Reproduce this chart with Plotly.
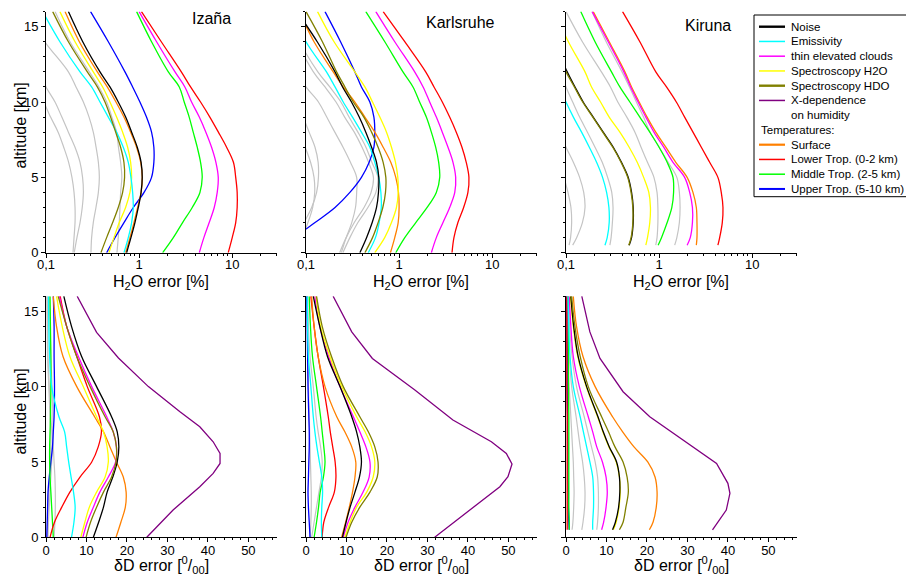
import plotly.graph_objects as go

# ---------------- data ----------------
ALT_TOP = [0, 1, 2, 3, 4, 5, 6, 7, 8, 9, 10, 11, 12, 14, 16]
ALT_TOP_KI = [0.5, 1, 2, 3, 4, 5, 6, 7, 8, 9, 10, 11, 12, 14, 16]
ALT_BOT = [0, 1, 2, 3, 4, 5, 6, 7, 8, 10, 12, 14, 16]
ALT_BOT_KI = [0.5, 1, 2, 3, 4, 5, 6, 7, 8, 10, 12, 14, 16]

STATIONS = ["Izaña", "Karlsruhe", "Kiruna"]

SERIES = ["noise", "emis", "cloud", "spec_h2o", "spec_hdo", "xdep",
          "surface", "lower", "middle", "upper"]
LABELS = {
    "noise": "Noise", "emis": "Emissivity", "cloud": "thin elevated clouds",
    "spec_h2o": "Spectroscopy H2O", "spec_hdo": "Spectroscopy HDO",
    "xdep": "X-dependence<br>on humidity", "surface": "Surface",
    "lower": "Lower Trop. (0-2 km)", "middle": "Middle Trop. (2-5 km)",
    "upper": "Upper Trop. (5-10 km)",
}
COLORS = {
    "noise": "#000000", "emis": "#00FFFF", "cloud": "#FF00FF",
    "spec_h2o": "#FFFF00", "spec_hdo": "#808000", "xdep": "#800080",
    "surface": "#FF8000", "lower": "#FF0000", "middle": "#00FF00",
    "upper": "#0000FF",
}
GREY = "#C4C4C4"

# H2O error [%], Izaña (altitudes ALT_TOP)
IZ_H2O = {
    "noise": [0.734, 0.817, 0.902, 0.98, 1.05, 1.08, 1.05, 0.955, 0.831, 0.717, 0.597, 0.486, 0.380, 0.248, 0.174],
    "emis": [0.688, 0.765, 0.831, 0.866, 0.852, 0.817, 0.765, 0.676, 0.573, 0.467, 0.380, 0.309, 0.232, 0.141, 0.092],
    "cloud": [4.43, 4.96, 5.66, 6.41, 6.90, 7.08, 6.68, 6.0, 5.21, 4.43, 3.66, 3.10, 2.43, 1.54, 1.0],
    "spec_h2o": [0.474, 0.537, 0.612, 0.716, 0.797, 0.831, 0.811, 0.753, 0.665, 0.573, 0.486, 0.406, 0.322, 0.205, 0.141],
    "spec_hdo": [0.389, 0.448, 0.520, 0.597, 0.665, 0.698, 0.687, 0.633, 0.560, 0.494, 0.430, 0.356, 0.278, 0.174, 0.118],
    "surface": [0.716, 0.797, 0.880, 0.964, 1.05, 1.08, 1.04, 0.94, 0.811, 0.687, 0.564, 0.455, 0.356, 0.228, 0.160],
    "lower": [9.06, 10.0, 10.9, 11.3, 11.3, 10.9, 10.3, 8.7, 7.1, 5.75, 4.57, 3.57, 2.84, 1.73, 1.06],
    "middle": [1.79, 2.33, 2.93, 3.72, 4.50, 4.76, 4.57, 4.21, 3.81, 3.45, 3.05, 2.70, 2.06, 1.36, 0.94],
    "upper": [0.448, 0.551, 0.688, 0.866, 1.13, 1.36, 1.44, 1.44, 1.36, 1.20, 1.02, 0.852, 0.705, 0.467, 0.301],
}
IZ_H2O_GREY = [
    [0.304, 0.309, 0.322, 0.344, 0.365, 0.374, 0.365, 0.345, 0.322, 0.29, 0.252, 0.21, 0.174, 0.097, 0.06],
    [0.201, 0.215, 0.232, 0.245, 0.252, 0.247, 0.232, 0.205, 0.174, 0.148, 0.125, 0.1, 0.085, 0.06, 0.045],
    [0.195, 0.2, 0.205, 0.205, 0.2, 0.19, 0.175, 0.155, 0.135, 0.112, 0.095, 0.085, 0.075, 0.06, 0.045],
    [0.578, 0.597, 0.612, 0.623, 0.633, 0.652, 0.633, 0.6, 0.573, 0.51, 0.448, 0.37, 0.292, 0.181, 0.125],
]

# H2O error [%], Karlsruhe (altitudes ALT_TOP)
KA_H2O = {
    "noise": [0.379, 0.447, 0.514, 0.572, 0.600, 0.605, 0.572, 0.506, 0.439, 0.373, 0.308, 0.247, 0.205, 0.132, 0.08],
    "emis": [0.466, 0.557, 0.611, 0.643, 0.637, 0.605, 0.548, 0.485, 0.394, 0.316, 0.251, 0.205, 0.166, 0.1, 0.07],
    "cloud": [2.22, 2.51, 2.96, 3.49, 3.96, 4.05, 3.79, 3.35, 2.91, 2.51, 2.13, 1.81, 1.47, 0.898, 0.562],
    "spec_h2o": [0.548, 0.70, 0.828, 0.936, 0.977, 0.968, 0.914, 0.828, 0.732, 0.621, 0.518, 0.429, 0.335, 0.2, 0.133],
    "spec_hdo": [0.429, 0.518, 0.595, 0.668, 0.714, 0.720, 0.674, 0.595, 0.506, 0.418, 0.322, 0.262, 0.213, 0.150, 0.1],
    "surface": [0.807, 0.898, 0.977, 1.0, 0.984, 0.921, 0.814, 0.674, 0.548, 0.429, 0.335, 0.251, 0.196, 0.122, 0.085],
    "lower": [3.70, 3.88, 4.28, 4.93, 5.48, 5.62, 5.26, 4.73, 4.11, 3.49, 2.91, 2.37, 1.93, 1.15, 0.674],
    "middle": [0.921, 1.15, 1.51, 2.0, 2.51, 2.73, 2.66, 2.47, 2.22, 1.96, 1.66, 1.41, 1.10, 0.702, 0.439],
    "upper": [0.05, 0.075, 0.125, 0.205, 0.296, 0.394, 0.477, 0.536, 0.548, 0.536, 0.485, 0.394, 0.335, 0.235, 0.160],
}
KA_H2O_GREY = [
    [0.249, 0.296, 0.361, 0.462, 0.563, 0.591, 0.510, 0.440, 0.361, 0.29, 0.237, 0.18, 0.134, 0.085, 0.06],
    [0.23, 0.27, 0.33, 0.42, 0.50, 0.53, 0.47, 0.40, 0.33, 0.26, 0.21, 0.16, 0.12, 0.08, 0.06],
    [0.24, 0.27, 0.31, 0.34, 0.35, 0.35, 0.30, 0.25, 0.204, 0.167, 0.136, 0.1, 0.08, 0.06, 0.05],
    [0.06, 0.075, 0.095, 0.115, 0.13, 0.136, 0.135, 0.125, 0.108, 0.093, 0.08, 0.07, 0.06, 0.05, 0.04],
    [0.07, 0.09, 0.105, 0.118, 0.124, 0.122, 0.112, 0.098, 0.085, 0.075, 0.065, 0.06, 0.05, 0.045, 0.04],
]

# H2O error [%], Kiruna (altitudes ALT_TOP_KI)
KI_H2O = {
    "noise": [0.477, 0.506, 0.527, 0.527, 0.506, 0.466, 0.394, 0.322, 0.251, 0.196, 0.153, 0.125, 0.103, 0.075, 0.06],
    "emis": [0.262, 0.277, 0.291, 0.289, 0.273, 0.247, 0.213, 0.178, 0.147, 0.12, 0.1, 0.085, 0.075, 0.06, 0.05],
    "cloud": [2.0, 2.16, 2.28, 2.28, 2.13, 1.88, 1.41, 1.12, 0.88, 0.72, 0.595, 0.494, 0.418, 0.284, 0.191],
    "spec_h2o": [0.720, 0.750, 0.794, 0.807, 0.775, 0.682, 0.582, 0.477, 0.379, 0.291, 0.235, 0.188, 0.160, 0.106, 0.075],
    "spec_hdo": [0.472, 0.50, 0.522, 0.522, 0.50, 0.46, 0.39, 0.318, 0.248, 0.194, 0.151, 0.123, 0.1, 0.073, 0.058],
    "surface": [2.51, 2.55, 2.55, 2.51, 2.31, 2.0, 1.51, 1.18, 0.921, 0.743, 0.611, 0.506, 0.429, 0.291, 0.196],
    "lower": [4.28, 4.47, 4.77, 4.85, 4.65, 4.28, 3.49, 2.84, 2.31, 1.88, 1.53, 1.20, 0.921, 0.621, 0.405],
    "middle": [0.976, 1.06, 1.22, 1.37, 1.43, 1.41, 1.22, 1.0, 0.794, 0.621, 0.485, 0.379, 0.308, 0.205, 0.144],
}
KI_H2O_GREY = [
    [1.47, 1.55, 1.65, 1.68, 1.65, 1.55, 1.25, 1.0, 0.80, 0.68, 0.57, 0.48, 0.40, 0.27, 0.19],
    [0.92, 0.95, 0.97, 0.97, 0.95, 0.88, 0.75, 0.64, 0.55, 0.45, 0.36, 0.3, 0.24, 0.15, 0.1],
    [0.296, 0.305, 0.315, 0.32, 0.31, 0.28, 0.245, 0.205, 0.17, 0.14, 0.118, 0.1, 0.088, 0.07, 0.055],
    [0.118, 0.13, 0.15, 0.16, 0.155, 0.14, 0.12, 0.1, 0.085, 0.075, 0.068, 0.062, 0.056, 0.05, 0.045],
    [0.108, 0.112, 0.115, 0.113, 0.105, 0.095, 0.085, 0.077, 0.07, 0.064, 0.06, 0.056, 0.052, 0.048, 0.044],
]

# deltaD error [permil], Izaña (altitudes ALT_BOT)
IZ_DD = {
    "noise": [11.7, 13.0, 14.2, 15.1, 16.5, 17.6, 18.0, 17.6, 16.2, 12.5, 8.8, 6.3, 4.4],
    "emis": [6.3, 6.9, 7.2, 6.8, 6.2, 5.6, 5.1, 4.6, 3.2, 1.4, 0.9, 0.7, 0.6],
    "cloud": [9.1, 10.2, 11.7, 13.3, 15.4, 17.2, 17.4, 16.6, 15.0, 11.3, 8.0, 5.1, 3.3],
    "spec_h2o": [8.6, 9.6, 10.7, 12.5, 14.6, 15.4, 15.1, 14.2, 12.5, 9.2, 5.9, 4.0, 2.6],
    "spec_hdo": [9.9, 11.0, 12.5, 14.2, 16.2, 17.3, 17.4, 16.6, 14.6, 10.9, 7.6, 5.1, 3.0],
    "surface": [17.3, 18.5, 19.6, 19.8, 19.1, 17.4, 15.8, 14.2, 12.0, 7.6, 4.2, 2.6, 1.8],
    "lower": [1.0, 2.1, 3.9, 5.9, 8.4, 11.3, 12.9, 13.7, 13.2, 10.2, 7.6, 5.1, 3.5],
    "middle": [1.8, 1.6, 1.4, 1.2, 1.0, 0.9, 0.9, 1.0, 1.1, 1.2, 1.2, 1.1, 1.0],
    "upper": [0.2, 0.3, 0.4, 0.5, 0.8, 1.2, 1.6, 1.8, 2.0, 2.1, 2.0, 2.0, 1.8],
}
IZ_DD_GREY = [
    [0.5, 0.6, 0.8, 1.0, 1.2, 1.4, 1.6, 1.7, 1.7, 1.5, 1.2, 1.0, 0.8],
    [2.0, 2.2, 2.3, 2.3, 2.2, 2.0, 1.8, 1.5, 1.2, 0.8, 0.5, 0.4, 0.3],
    [0.3, 0.4, 0.5, 0.7, 0.9, 1.1, 1.2, 1.2, 1.0, 0.7, 0.4, 0.3, 0.2],
]
IZ_XDEP_ALT = [0, 1.81, 3.36, 4.24, 4.9, 5.57, 6.34, 7.34, 8.33, 10, 11.9, 13.6, 16]
IZ_XDEP = [24.9, 31.4, 38.0, 41.3, 43.0, 43.0, 41.3, 38.0, 33.1, 25.3, 17.9, 12.5, 7.7]

# deltaD error [permil], Karlsruhe (altitudes ALT_BOT)
KA_DD = {
    "noise": [9.0, 9.9, 10.9, 12.1, 13.2, 13.7, 13.3, 12.5, 11.3, 8.4, 5.3, 3.4, 1.8],
    "emis": [3.9, 3.8, 3.9, 4.1, 3.9, 3.3, 2.7, 2.2, 1.8, 1.2, 0.6, 0.4, 0.3],
    "cloud": [9.2, 10.4, 12.1, 14.1, 15.6, 15.8, 14.8, 13.3, 11.7, 8.4, 5.6, 3.4, 2.2],
    "spec_h2o": [9.6, 10.9, 12.5, 15.0, 16.6, 17.0, 16.2, 14.6, 12.5, 8.8, 5.9, 3.6, 2.5],
    "spec_hdo": [9.9, 11.3, 13.3, 15.8, 17.6, 17.8, 17.0, 15.4, 13.3, 9.2, 6.3, 4.0, 2.6],
    "surface": [8.8, 9.8, 10.7, 11.5, 12.1, 12.3, 11.3, 9.6, 7.6, 4.7, 3.0, 2.0, 1.4],
    "lower": [4.0, 4.4, 5.6, 7.0, 7.4, 7.2, 6.6, 6.0, 5.5, 4.3, 3.0, 2.0, 1.2],
    "middle": [2.0, 2.6, 3.1, 3.5, 4.3, 4.7, 4.4, 4.0, 3.6, 2.6, 1.6, 1.1, 0.8],
    "upper": [1.0, 0.8, 0.6, 0.5, 0.6, 0.7, 0.8, 0.8, 0.7, 0.5, 0.4, 0.3, 0.2],
}
KA_DD_GREY = [
    [1.4, 2.0, 2.6, 3.2, 3.8, 4.0, 3.6, 3.0, 2.5, 1.8, 1.0, 0.6, 0.4],
    [1.0, 1.2, 1.3, 1.3, 1.2, 1.1, 1.0, 0.9, 0.8, 0.6, 0.5, 0.4, 0.3],
]
KA_XDEP_ALT = [0, 1.81, 3.36, 4.02, 4.86, 5.57, 6.34, 7.78, 9.77, 11.87, 13.63, 16]
KA_XDEP = [31.8, 40.5, 47.9, 49.9, 50.9, 49.5, 45.8, 36.3, 26.9, 16.4, 11.3, 6.7]

# deltaD error [permil], Kiruna (altitudes ALT_BOT_KI)
KI_DD = {
    "noise": [11.5, 12.2, 13.0, 13.3, 13.2, 12.5, 10.7, 9.2, 7.9, 5.1, 3.0, 1.9, 1.2],
    "emis": [6.6, 6.6, 6.8, 6.8, 6.6, 5.9, 5.1, 4.3, 3.5, 1.8, 1.0, 0.7, 0.5],
    "cloud": [8.8, 9.3, 9.9, 10.2, 9.9, 9.0, 7.6, 6.6, 5.5, 3.3, 1.8, 1.2, 0.8],
    "spec_h2o": [11.7, 12.4, 13.1, 13.4, 13.2, 12.4, 10.6, 9.1, 7.8, 5.0, 2.9, 1.8, 1.1],
    "spec_hdo": [13.2, 14.1, 14.8, 15.4, 15.1, 14.1, 12.1, 10.5, 8.8, 5.5, 3.5, 2.2, 1.4],
    "surface": [20.6, 21.5, 22.3, 22.5, 22.0, 20.2, 16.8, 14.0, 11.5, 7.2, 4.2, 2.6, 1.8],
    "lower": [0.3, 0.3, 0.3, 0.3, 0.3, 0.3, 0.3, 0.3, 0.3, 0.2, 0.2, 0.2, 0.2],
    "middle": [0.8, 0.8, 0.7, 0.7, 0.7, 0.7, 0.7, 0.7, 0.7, 0.6, 0.6, 0.6, 0.6],
    "upper": [0.8, 0.7, 0.6, 0.6, 0.5, 0.5, 0.5, 0.4, 0.4, 0.3, 0.3, 0.2, 0.2],
}
KI_DD_GREY = [
    [7.6, 7.8, 8.0, 8.0, 7.8, 7.2, 6.3, 5.4, 4.5, 2.6, 1.5, 0.9, 0.6],
    [3.9, 4.2, 4.6, 4.7, 4.5, 4.1, 3.5, 3.0, 2.5, 1.4, 0.8, 0.5, 0.3],
    [1.5, 1.7, 1.9, 2.0, 1.9, 1.8, 1.6, 1.4, 1.2, 0.8, 0.5, 0.3, 0.2],
]
KI_XDEP_ALT = [0.49, 1.81, 2.92, 3.58, 4.9, 6.45, 8.0, 9.66, 11.87, 13.63, 16]
KI_XDEP = [36.2, 39.6, 40.5, 40.0, 37.2, 28.9, 20.7, 14.1, 8.4, 5.9, 3.9]

LOG_TICKS = [0.1, 1, 10]
LOG_TICKTEXT = ["0,1", "1", "10"]
LOG_MINOR = [0.2, 0.3, 0.4, 0.5, 0.6, 0.7, 0.8, 0.9, 2, 3, 4, 5, 6, 7, 8, 9, 20, 30]
DD_TICKS = [0, 10, 20, 30, 40, 50]
ALT_TICKS = [0, 5, 10, 15]

# ---------------- figure ----------------
W, H = 906, 575
FONT = "Arial, 'Liberation Sans', sans-serif"


def px(x):
    return x / W


def py(y):
    return 1 - y / H


PANELS = [
    dict(alt=ALT_TOP, data=IZ_H2O, greys=IZ_H2O_GREY, xalt=None, xdep=None),
    dict(alt=ALT_TOP, data=KA_H2O, greys=KA_H2O_GREY, xalt=None, xdep=None),
    dict(alt=ALT_TOP_KI, data=KI_H2O, greys=KI_H2O_GREY, xalt=None, xdep=None),
    dict(alt=ALT_BOT, data=IZ_DD, greys=IZ_DD_GREY, xalt=IZ_XDEP_ALT, xdep=IZ_XDEP),
    dict(alt=ALT_BOT, data=KA_DD, greys=KA_DD_GREY, xalt=KA_XDEP_ALT, xdep=KA_XDEP),
    dict(alt=ALT_BOT_KI, data=KI_DD, greys=KI_DD_GREY, xalt=KI_XDEP_ALT, xdep=KI_XDEP),
]
DRAW_ORDER = ["upper", "middle", "lower", "surface", "cloud", "spec_h2o",
              "emis", "noise", "spec_hdo"]

fig = go.Figure()
for i, p in enumerate(PANELS):
    n = "" if i == 0 else str(i + 1)
    xa, ya = "x" + n, "y" + n
    for g in p["greys"]:
        fig.add_trace(go.Scatter(x=g, y=p["alt"], mode="lines", xaxis=xa, yaxis=ya,
                                 line=dict(color=GREY, width=1.2, shape="spline", smoothing=1.0),
                                 showlegend=False, hoverinfo="skip"))
    for key in DRAW_ORDER:
        if key in p["data"]:
            fig.add_trace(go.Scatter(x=p["data"][key], y=p["alt"], mode="lines",
                                     xaxis=xa, yaxis=ya, name=LABELS[key],
                                     line=dict(color=COLORS[key], width=1.3,
                                               shape="spline", smoothing=1.0),
                                     showlegend=False))
    if p["xdep"] is not None:
        fig.add_trace(go.Scatter(x=p["xdep"], y=p["xalt"], mode="lines", xaxis=xa, yaxis=ya,
                                 name="X-dependence on humidity",
                                 line=dict(color=COLORS["xdep"], width=1.3),
                                 showlegend=False))

XDOM = [[46, 276.7], [306, 536.7], [566, 796.7]]
YDOM = [[11.6, 252.7], [296.2, 537.3]]

layout = dict(
    width=W, height=H, margin=dict(l=0, r=0, t=0, b=0, pad=0, autoexpand=False),
    paper_bgcolor="white", plot_bgcolor="white",
    font=dict(family=FONT, color="black", size=13),
    showlegend=False, hovermode=False,
)
for i in range(6):
    r, c = divmod(i, 3)
    n = "" if i == 0 else str(i + 1)
    xd = [px(XDOM[c][0]), px(XDOM[c][1])]
    yd = [py(YDOM[r][1]), py(YDOM[r][0])]
    common = dict(showline=True, linecolor="black", linewidth=1, ticks="outside",
                  ticklen=4, tickwidth=1, tickcolor="black", showgrid=False,
                  zeroline=False, mirror=False, automargin=False,
                  tickfont=dict(size=13, family=FONT))
    if r == 0:
        xax = dict(common, type="log", range=[-1, 1.4776], tickmode="array",
                   tickvals=LOG_TICKS, ticktext=LOG_TICKTEXT, ticklabelstandoff=-4,
                   minor=dict(tickmode="array", tickvals=LOG_MINOR, ticks="outside",
                              ticklen=2, tickcolor="black", showgrid=False))
    else:
        xax = dict(common, type="linear", range=[0, 57], tickmode="array",
                   tickvals=DD_TICKS, ticklabelstandoff=-3,
                   minor=dict(tickmode="linear", tick0=0, dtick=2, ticks="outside",
                              ticklen=2, tickcolor="black", showgrid=False))
    xax.update(domain=xd, anchor="y" + n)
    yax = dict(common, range=[0, 16], tickmode="array", tickvals=ALT_TICKS,
               showticklabels=(c == 0), domain=yd, anchor="x" + n,
               minor=dict(tickmode="linear", tick0=0, dtick=1, ticks="outside",
                          ticklen=2, tickcolor="black", showgrid=False))
    layout["xaxis" + n] = xax
    layout["yaxis" + n] = yax
fig.update_layout(**layout)

# station names, axis titles
TITLE_POS = [(211, 18.5), (460, 22.5), (708, 25.5)]
for name, (x, y) in zip(STATIONS, TITLE_POS):
    fig.add_annotation(x=px(x), y=py(y), xref="paper", yref="paper", text=name,
                       showarrow=False, font=dict(size=16, family=FONT),
                       xanchor="center", yanchor="middle")
for c in range(3):
    xc = px((XDOM[c][0] + XDOM[c][1]) / 2)
    fig.add_annotation(x=xc, y=py(282), xref="paper", yref="paper",
                       text="H<sub>2</sub>O error [%]", showarrow=False,
                       font=dict(size=16, family=FONT), xanchor="center", yanchor="middle")
    fig.add_annotation(x=xc, y=py(565), xref="paper", yref="paper",
                       text="δD error [<sup>0</sup>/<sub>00</sub>]", showarrow=False,
                       font=dict(size=16, family=FONT), xanchor="center", yanchor="middle")
for yc in (125.5, 411.5):
    fig.add_annotation(x=px(20), y=py(yc), xref="paper", yref="paper",
                       text="altitude [km]", textangle=-90, showarrow=False,
                       font=dict(size=16, family=FONT), xanchor="center", yanchor="middle")

# legend box (drawn as layout decoration)
LEG_LEFT, LEG_TOP, LEG_BOTTOM = 754, 15, 196.7
ROW0, ROWSTEP = 26.7, 14.75
fig.add_shape(type="rect", xref="paper", yref="paper",
              x0=px(LEG_LEFT), x1=px(LEG_LEFT + 170), y0=py(LEG_BOTTOM), y1=py(LEG_TOP),
              line=dict(color="black", width=1), fillcolor="white", layer="above")
LEGEND_ROWS = [("noise", 0), ("emis", 1), ("cloud", 2), ("spec_h2o", 3),
               ("spec_hdo", 4), ("xdep", 5), ("surface", 8), ("lower", 9),
               ("middle", 10), ("upper", 11)]
THICK = {"noise": 2.4, "spec_hdo": 2.4, "surface": 2.2, "upper": 2.0}
for key, row in LEGEND_ROWS:
    yy = ROW0 + ROWSTEP * row
    fig.add_shape(type="line", xref="paper", yref="paper",
                  x0=px(759), x1=px(785), y0=py(yy), y1=py(yy), layer="above",
                  line=dict(color=COLORS[key], width=THICK.get(key, 1.5)))
    fig.add_annotation(x=px(789), y=py(yy + ROWSTEP / 2 if key == "xdep" else yy),
                       xref="paper", yref="paper", text=LABELS[key], showarrow=False,
                       xanchor="left", yanchor="middle", align="left",
                       font=dict(size=11.5, family=FONT))
fig.add_annotation(x=px(759), y=py(ROW0 + ROWSTEP * 7), xref="paper", yref="paper",
                   text="Temperatures:", showarrow=False, xanchor="left", yanchor="middle",
                   font=dict(size=11.5, family=FONT))

fig.write_html(
    "out.html",
    config={"displayModeBar": False, "staticPlot": True},
    post_script="document.body.style.margin='0';"
                "document.documentElement.style.overflow='hidden';",
)
